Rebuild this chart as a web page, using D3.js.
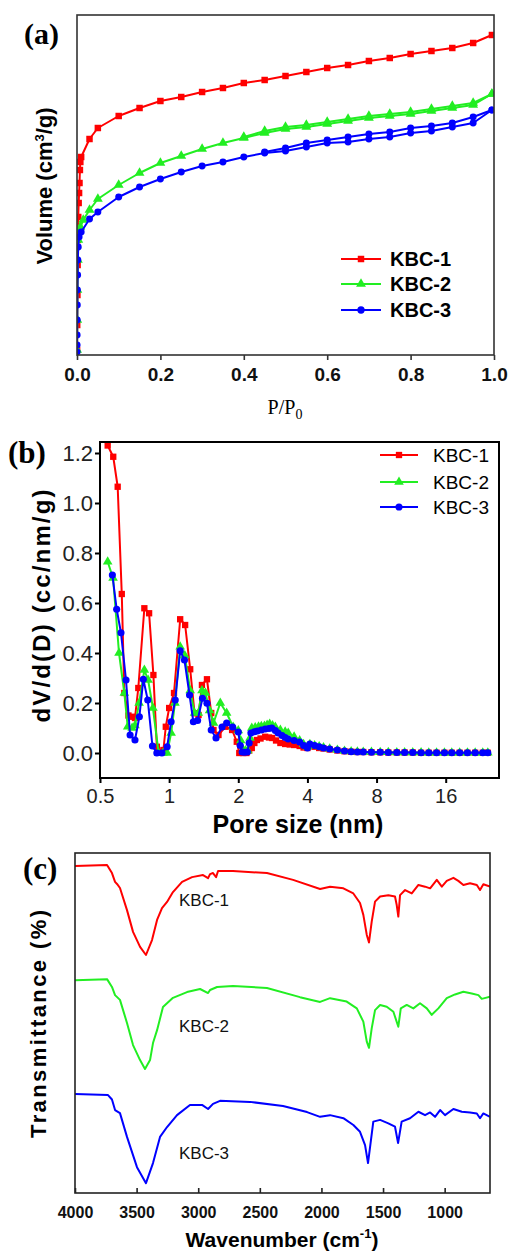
<!DOCTYPE html>
<html>
<head>
<meta charset="utf-8">
<script src="https://cdn.jsdelivr.net/npm/d3@7"></script>
<style>
  body { margin: 0; background: #fff; }
  svg { display: block; }
  text { font-family: 'Liberation Sans', Arial, sans-serif; }
</style>
</head>
<body>
<script>
// ---------- shared series info ----------
const seriesNames = ["KBC-1", "KBC-2", "KBC-3"];
const seriesColors = ["#ff0000", "#22ee22", "#0000ff"];
const seriesSymbols = [d3.symbolSquare, d3.symbolTriangle, d3.symbolCircle];

// ---------- (a) N2 adsorption–desorption isotherms: [P/P0, volume] ----------
const isoTicks = [0, 0.2, 0.4, 0.6, 0.8, 1.0];
const kbc1Ads = [[0.0002,5],[0.0005,30],[0.001,60],[0.0015,90],[0.002,115],[0.003,138],[0.004,152],[0.005,162],[0.006,172],[0.007,185],[0.008,193],[0.01,198],[0.03,216],[0.05,227],[0.10,239],[0.15,247],[0.20,254],[0.25,258],[0.30,263],[0.35,267],[0.40,272],[0.45,275],[0.50,279],[0.55,283],[0.60,287],[0.65,290],[0.70,294],[0.75,297],[0.80,301],[0.85,304],[0.90,307],[0.95,312],[0.995,320]];
const kbc2Ads = [[0.0002,5],[0.0006,35],[0.001,65],[0.002,95],[0.003,115],[0.005,125],[0.008,128],[0.015,135],[0.03,145],[0.05,156],[0.10,170],[0.15,182],[0.20,192],[0.25,199],[0.30,206],[0.35,212],[0.40,217],[0.45,222],[0.50,226],[0.55,228],[0.60,231],[0.65,234],[0.70,237],[0.75,239],[0.80,241],[0.85,244],[0.90,247],[0.95,250],[0.995,261]];
const kbc2Des = [[0.995,261],[0.95,252],[0.90,249],[0.85,246],[0.80,243],[0.75,241],[0.70,239],[0.65,236],[0.60,233],[0.55,230],[0.50,228],[0.45,224],[0.40,218]];
const kbc3Ads = [[0.0001,3],[0.0002,10],[0.0003,20],[0.0005,35],[0.0007,50],[0.001,65],[0.0015,80],[0.002,95],[0.003,108],[0.005,118],[0.01,123],[0.03,136],[0.05,143],[0.10,158],[0.15,168],[0.20,176],[0.25,183],[0.30,189],[0.35,193],[0.40,198],[0.45,202],[0.50,204],[0.55,208],[0.60,212],[0.65,213],[0.70,216],[0.75,218],[0.80,222],[0.85,224],[0.90,228],[0.95,232],[0.995,245]];
const kbc3Des = [[0.995,245],[0.95,238],[0.90,232],[0.85,229],[0.80,227],[0.75,223],[0.70,221],[0.65,218],[0.60,215],[0.55,212],[0.50,207],[0.45,203]];

// ---------- (b) pore size distribution: [pore size nm, dV/d(D)] ----------
const poreTicks = [0.5, 1, 2, 4, 8, 16];
const psdTicks = [0, 0.2, 0.4, 0.6, 0.8, 1.0, 1.2];
const kbc1Psd = [[0.540,1.23],[0.571,1.185],[0.597,1.065],[0.622,0.636],[0.638,0.24],[0.665,0.15],[0.692,0.145],[0.710,0.14],[0.734,0.26],[0.780,0.579],[0.818,0.559],[0.854,0.312],[0.884,0.025],[0.920,0.005],[0.944,0.012],[0.967,0.105],[1.0,0.18],[1.05,0.24],[1.117,0.535],[1.174,0.512],[1.235,0.335],[1.29,0.159],[1.343,0.152],[1.389,0.272],[1.461,0.295],[1.525,0.16],[1.56,0.092],[1.64,0.072],[1.755,0.105],[1.88,0.092],[1.97,0.045],[2.02,0.0],[2.1,0.0],[2.17,0.0],[2.23,0.01],[2.29,0.02],[2.35,0.04],[2.41,0.052],[2.5,0.058],[2.62,0.065],[2.72,0.062],[2.81,0.06],[2.92,0.05],[3.05,0.04],[3.2,0.036],[3.35,0.034],[3.5,0.032],[3.7,0.028],[3.85,0.022],[4.0,0.02],[4.1,0.03],[4.3,0.025],[4.5,0.02],[4.7,0.018],[5.0,0.014],[5.4,0.01],[5.8,0.007],[6.2,0.005],[6.6,0.004],[7.0,0.004],[7.6,0.003],[8.3,0.003],[9.0,0.002],[9.8,0.002],[10.6,0.002],[11.5,0.002],[12.5,0.001],[13.5,0.001],[14.6,0.001],[15.8,0.001],[17.0,0.001],[18.4,0.001],[19.9,0.001],[21.5,0.001],[23.2,0.001],[24.4,0.001]];
const kbc2Psd = [[0.54,0.765],[0.57,0.70],[0.605,0.40],[0.638,0.24],[0.66,0.105],[0.69,0.10],[0.71,0.11],[0.74,0.2],[0.78,0.332],[0.81,0.292],[0.85,0.18],[0.90,0.0],[0.94,0.0],[0.98,0.0],[1.02,0.08],[1.06,0.2],[1.117,0.425],[1.17,0.39],[1.235,0.25],[1.29,0.16],[1.34,0.16],[1.39,0.25],[1.44,0.24],[1.50,0.17],[1.56,0.12],[1.67,0.2],[1.78,0.16],[1.9,0.104],[2.0,0.09],[2.05,0.05],[2.1,0.012],[2.15,0.01],[2.2,0.01],[2.25,0.06],[2.29,0.1],[2.37,0.102],[2.45,0.105],[2.52,0.107],[2.6,0.108],[2.67,0.112],[2.74,0.116],[2.82,0.11],[2.9,0.104],[3.05,0.092],[3.2,0.085],[3.3,0.08],[3.5,0.065],[3.7,0.05],[3.85,0.035],[4.0,0.025],[4.1,0.035],[4.3,0.03],[4.5,0.026],[4.7,0.022],[5.0,0.017],[5.4,0.012],[5.8,0.008],[6.2,0.006],[6.6,0.005],[7.0,0.004],[7.6,0.004],[8.3,0.003],[9.0,0.003],[9.8,0.002],[10.6,0.002],[11.5,0.002],[12.5,0.002],[13.5,0.001],[14.6,0.001],[15.8,0.001],[17.0,0.001],[18.4,0.001],[19.9,0.001],[21.5,0.001],[23.2,0.001],[24.4,0.001]];
const kbc3Psd = [[0.566,0.712],[0.591,0.575],[0.617,0.481],[0.649,0.292],[0.676,0.072],[0.710,0.052],[0.742,0.145],[0.772,0.295],[0.807,0.212],[0.846,0.028],[0.884,0.0],[0.93,0.0],[0.98,0.025],[1.02,0.125],[1.063,0.212],[1.117,0.409],[1.166,0.372],[1.227,0.232],[1.275,0.125],[1.33,0.13],[1.397,0.219],[1.461,0.199],[1.525,0.092],[1.60,0.06],[1.70,0.104],[1.78,0.12],[1.89,0.104],[2.0,0.084],[2.04,0.03],[2.08,0.004],[2.13,0.003],[2.19,0.004],[2.23,0.04],[2.27,0.08],[2.35,0.085],[2.42,0.088],[2.52,0.092],[2.62,0.096],[2.72,0.098],[2.8,0.1],[2.9,0.09],[2.98,0.08],[3.1,0.07],[3.2,0.062],[3.3,0.056],[3.5,0.05],[3.7,0.044],[3.85,0.03],[4.0,0.02],[4.1,0.036],[4.3,0.03],[4.5,0.025],[4.7,0.02],[5.0,0.016],[5.4,0.012],[5.8,0.008],[6.2,0.005],[6.6,0.004],[7.0,0.004],[7.6,0.003],[8.3,0.003],[9.0,0.002],[9.8,0.002],[10.6,0.002],[11.5,0.002],[12.5,0.001],[13.5,0.001],[14.6,0.001],[15.8,0.001],[17.0,0.001],[18.4,0.001],[19.9,0.001],[21.5,0.001],[23.2,0.001],[24.4,0.001]];

// ---------- (c) FTIR spectra: [wavenumber cm-1, transmittance] ----------
const wnTicks = [4000, 3500, 3000, 2500, 2000, 1500, 1000];
const kbc1Ftir = [[4000,96.2],[3740,96.5],[3700,94.1],[3675,91.5],[3659,90.9],[3635,89.7],[3578,83.2],[3529,76.8],[3472,72.4],[3424,70.0],[3375,74.4],[3334,80.3],[3294,83.8],[3253,85.6],[3205,88.5],[3131,91.5],[3050,92.9],[2961,93.5],[2920,92.6],[2904,93.8],[2880,94.1],[2855,92.9],[2839,94.7],[2718,94.7],[2442,94.1],[2230,92.1],[2011,89.4],[1930,90.1],[1822,89.6],[1741,88.1],[1687,85.3],[1660,81.8],[1632,75.9],[1614,73.7],[1592,79.8],[1565,85.7],[1524,87.2],[1457,87.6],[1403,87.2],[1389,84.7],[1376,81.3],[1362,87.6],[1321,89.1],[1267,88.1],[1213,90.6],[1159,90.1],[1118,89.6],[1064,92.1],[1023,90.1],[983,91.8],[929,92.7],[889,91.8],[848,90.6],[794,91.1],[739,90.6],[713,89.1],[686,90.8],[632,90.1]];
const kbc2Ftir = [[4000,62.6],[3740,62.9],[3700,60.6],[3675,58.2],[3635,56.8],[3578,50.0],[3529,43.5],[3472,39.1],[3432,36.5],[3391,39.1],[3367,44.1],[3334,47.9],[3286,54.7],[3205,57.4],[3091,59.1],[2985,60.0],[2920,58.8],[2904,59.7],[2847,60.6],[2718,60.9],[2442,60.3],[2174,57.6],[2011,56.2],[1930,57.3],[1795,56.3],[1713,54.3],[1660,50.4],[1632,44.5],[1614,42.7],[1592,48.4],[1565,53.8],[1524,55.3],[1470,54.8],[1416,53.3],[1376,48.9],[1356,54.3],[1308,55.3],[1254,54.3],[1200,55.8],[1145,54.3],[1105,52.4],[1051,54.3],[983,57.3],[916,58.4],[848,59.2],[780,58.7],[726,58.2],[699,57.1],[632,57.7]];
const kbc3Ftir = [[4000,29.1],[3732,28.8],[3700,27.5],[3675,24.4],[3635,23.5],[3578,16.5],[3497,7.6],[3424,2.9],[3367,8.8],[3310,16.5],[3253,19.4],[3172,22.9],[3067,25.9],[2969,25.9],[2920,24.7],[2880,26.2],[2823,27.1],[2580,26.8],[2312,25.6],[2117,23.8],[2011,22.4],[1930,22.9],[1822,22.0],[1741,20.0],[1687,18.0],[1646,14.1],[1622,8.8],[1579,21.0],[1524,21.5],[1457,20.5],[1403,19.5],[1378,14.7],[1349,21.0],[1281,22.0],[1213,23.9],[1159,22.9],[1118,23.7],[1078,22.4],[1037,24.4],[997,22.9],[929,24.7],[861,23.9],[794,23.7],[739,23.4],[713,22.0],[686,23.4],[632,22.4]];

// ---------- drawing ----------
const W = 508, H = 1253;
const svg = d3.select("body").append("svg").attr("width", W).attr("height", H);
svg.append("rect").attr("width", W).attr("height", H).attr("fill", "#fff");

const SERIF = "'Liberation Serif', 'Times New Roman', serif";

function addClip(id, x0, y0, x1, y1) {
  svg.append("clipPath").attr("id", id).append("rect")
    .attr("x", x0).attr("y", y0).attr("width", x1 - x0).attr("height", y1 - y0);
}

function drawSeries(g, data, x, y, color, symbol, size, withMarkers = true) {
  g.append("path").datum(data)
    .attr("fill", "none").attr("stroke", color).attr("stroke-width", 2)
    .attr("stroke-linejoin", "round")
    .attr("d", d3.line().x(d => x(d[0])).y(d => y(d[1])));
  if (withMarkers) {
    g.selectAll(null).data(data).join("path")
      .attr("transform", d => `translate(${x(d[0])},${y(d[1])})`)
      .attr("d", d3.symbol(symbol, size)).attr("fill", color);
  }
}

function drawLegend(g, x0, x1, tx, rows, fontSize, weight, size) {
  seriesNames.forEach((name, i) => {
    const yy = rows[i];
    g.append("line").attr("x1", x0).attr("x2", x1).attr("y1", yy).attr("y2", yy)
      .attr("stroke", seriesColors[i]).attr("stroke-width", 2);
    g.append("path").attr("transform", `translate(${(x0 + x1) / 2},${yy})`)
      .attr("d", d3.symbol(seriesSymbols[i], size)).attr("fill", seriesColors[i]);
    g.append("text").attr("x", tx).attr("y", yy).attr("dy", "0.36em")
      .attr("font-size", fontSize).attr("font-weight", weight).attr("fill", "#000")
      .text(name);
  });
}

// ===== Panel (a) =====
{
  const x = d3.scaleLinear().domain([0, 1]).range([77, 494]);
  const y = d3.scaleLinear().domain([0, 340]).range([355, 15]);
  addClip("clipA", 77, 15, 494, 355);
  const g = svg.append("g");
  const data = g.append("g").attr("clip-path", "url(#clipA)");
  drawSeries(data, kbc1Ads, x, y, seriesColors[0], seriesSymbols[0], 42);
  drawSeries(data, kbc2Ads, x, y, seriesColors[1], seriesSymbols[1], 42);
  drawSeries(data, kbc2Des, x, y, seriesColors[1], seriesSymbols[1], 42);
  drawSeries(data, kbc3Ads, x, y, seriesColors[2], seriesSymbols[2], 38);
  drawSeries(data, kbc3Des, x, y, seriesColors[2], seriesSymbols[2], 38);

  g.append("rect").attr("x", 77).attr("y", 15).attr("width", 417).attr("height", 340)
    .attr("fill", "none").attr("stroke", "#333").attr("stroke-width", 1.6);

  const ax = g.append("g").attr("transform", "translate(0,355)")
    .call(d3.axisBottom(x).tickValues(isoTicks).tickFormat(d3.format(".1f"))
      .tickSizeInner(5).tickSizeOuter(0).tickPadding(8));
  ax.select(".domain").remove();
  ax.selectAll(".tick line").attr("stroke", "#333").attr("stroke-width", 1.6);
  ax.selectAll(".tick text").attr("font-size", 19).attr("font-weight", "bold").attr("fill", "#111");

  drawLegend(g, 341, 381, 390, [259, 284, 310], 20, "bold", 42);

  g.append("text").attr("x", 24).attr("y", 44).style("font-family", SERIF)
    .attr("font-size", 30).attr("font-weight", "bold").text("(a)");

  const yl = g.append("text").attr("transform", "translate(52,186) rotate(-90)")
    .attr("text-anchor", "middle").attr("font-size", 22).attr("font-weight", "bold");
  yl.append("tspan").text("Volume (cm");
  yl.append("tspan").attr("font-size", 13).attr("dy", -8).text("3");
  yl.append("tspan").attr("dy", 8).text("/g)");

  const xl = g.append("text").attr("x", 285).attr("y", 414).attr("text-anchor", "middle")
    .style("font-family", SERIF).attr("font-size", 20);
  xl.append("tspan").text("P/P");
  xl.append("tspan").attr("font-size", 14).attr("dy", 5).text("0");
}

// ===== Panel (b) =====
{
  const x = d3.scaleLog().base(2).domain([0.5, 27.3]).range([100, 499]);
  const y = d3.scaleLinear().domain([-0.1, 1.244]).range([778, 442]);
  addClip("clipB", 100, 442, 499, 778);
  const g = svg.append("g");
  const data = g.append("g").attr("clip-path", "url(#clipB)");
  drawSeries(data, kbc1Psd, x, y, seriesColors[0], seriesSymbols[0], 40);
  drawSeries(data, kbc2Psd, x, y, seriesColors[1], seriesSymbols[1], 40);
  drawSeries(data, kbc3Psd, x, y, seriesColors[2], seriesSymbols[2], 40);

  g.append("rect").attr("x", 100).attr("y", 442).attr("width", 399).attr("height", 336)
    .attr("fill", "none").attr("stroke", "#000").attr("stroke-width", 2);

  const ax = g.append("g").attr("transform", "translate(0,778)")
    .call(d3.axisBottom(x).tickValues(poreTicks).tickFormat(d => d < 1 ? d3.format(".1f")(d) : d3.format("d")(d))
      .tickSizeInner(5).tickSizeOuter(0).tickPadding(6));
  ax.select(".domain").remove();
  ax.selectAll(".tick line").attr("stroke", "#000").attr("stroke-width", 2);
  ax.selectAll(".tick text").attr("font-size", 20).attr("fill", "#222");

  const ay = g.append("g").attr("transform", "translate(100,0)")
    .call(d3.axisLeft(y).tickValues(psdTicks).tickFormat(d3.format(".1f"))
      .tickSizeInner(5).tickSizeOuter(0).tickPadding(2));
  ay.select(".domain").remove();
  ay.selectAll(".tick line").attr("stroke", "#000").attr("stroke-width", 2);
  ay.selectAll(".tick text").attr("font-size", 22).attr("fill", "#222");

  drawLegend(g, 380, 418, 433, [455, 482, 507], 19, "normal", 40);

  g.append("text").attr("x", 8).attr("y", 463).style("font-family", SERIF)
    .attr("font-size", 31).attr("font-weight", "bold").text("(b)");

  g.append("text").attr("transform", "translate(50,606) rotate(-90)")
    .attr("text-anchor", "middle").attr("font-size", 24).attr("font-weight", "bold")
    .attr("textLength", 233).attr("lengthAdjust", "spacing")
    .text("dV/d(D) (cc/nm/g)");

  g.append("text").attr("x", 298).attr("y", 833).attr("text-anchor", "middle")
    .attr("font-size", 25).attr("font-weight", "bold").text("Pore size (nm)");
}

// ===== Panel (c) =====
{
  const x = d3.scaleLinear().domain([4000, 632]).range([75, 490]);
  const y = d3.scaleLinear().domain([0, 100]).range([1193, 853]);
  addClip("clipC", 75, 853, 490, 1193);
  const g = svg.append("g");
  const data = g.append("g").attr("clip-path", "url(#clipC)");
  drawSeries(data, kbc1Ftir, x, y, seriesColors[0], null, 0, false);
  drawSeries(data, kbc2Ftir, x, y, seriesColors[1], null, 0, false);
  drawSeries(data, kbc3Ftir, x, y, seriesColors[2], null, 0, false);

  g.append("rect").attr("x", 75).attr("y", 853).attr("width", 415).attr("height", 340)
    .attr("fill", "none").attr("stroke", "#222").attr("stroke-width", 1.6);

  const ax = g.append("g").attr("transform", "translate(0,1193)")
    .call(d3.axisBottom(x).tickValues(wnTicks).tickFormat(d3.format("d"))
      .tickSizeInner(-5).tickSizeOuter(0).tickPadding(14));
  ax.select(".domain").remove();
  ax.selectAll(".tick line").attr("stroke", "#222").attr("stroke-width", 1.6);
  ax.selectAll(".tick text").attr("font-size", 16).attr("font-weight", "bold").attr("fill", "#111");

  const labelRows = [906, 1032, 1159];
  seriesNames.forEach((name, i) => {
    g.append("text").attr("x", 179).attr("y", labelRows[i])
      .attr("font-size", 17).attr("fill", "#111").text(name);
  });

  g.append("text").attr("x", 23).attr("y", 879).style("font-family", SERIF)
    .attr("font-size", 31).attr("font-weight", "bold").text("(c)");

  g.append("text").attr("transform", "translate(46,1024) rotate(-90)")
    .attr("text-anchor", "middle").attr("font-size", 22).attr("font-weight", "bold")
    .attr("textLength", 228).attr("lengthAdjust", "spacing")
    .text("Transmittance (%)");

  const xl = g.append("text").attr("x", 282).attr("y", 1247).attr("text-anchor", "middle")
    .attr("font-size", 21).attr("font-weight", "bold");
  xl.append("tspan").text("Wavenumber (cm");
  xl.append("tspan").attr("font-size", 13).attr("dy", -9).text("-1");
  xl.append("tspan").attr("dy", 9).text(")");
}
</script>
</body>
</html>
